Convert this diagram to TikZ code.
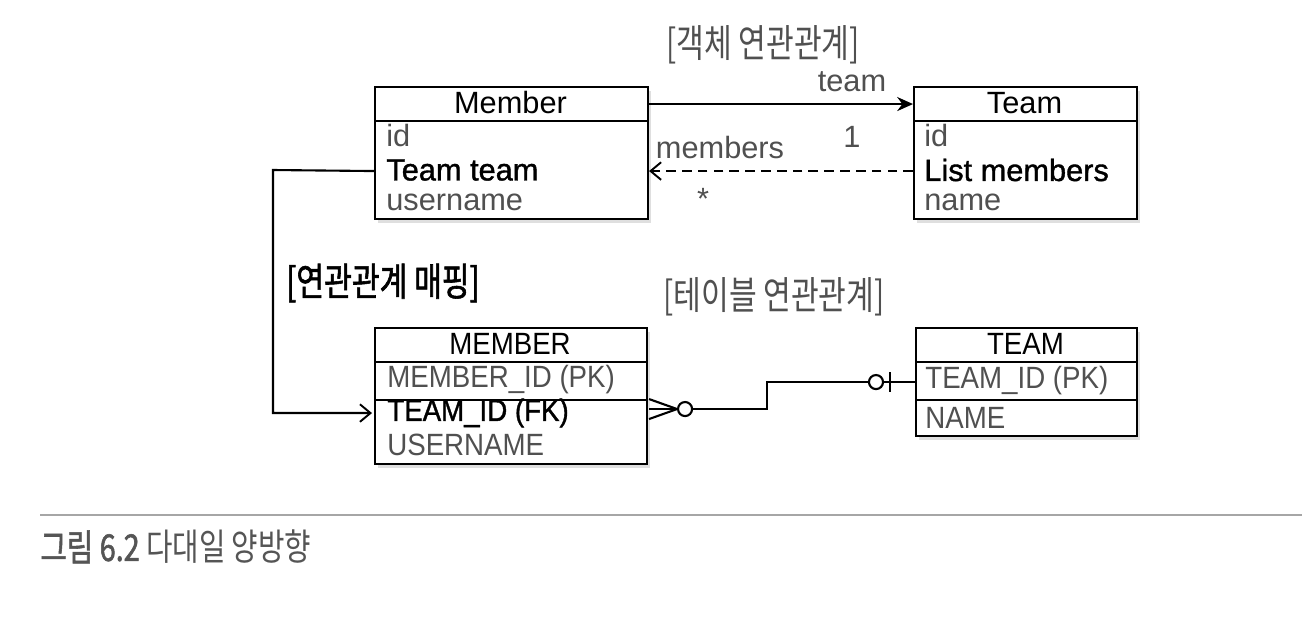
\documentclass[tikz,border=0pt]{standalone}
\usepackage{fontspec}
\setmainfont{Liberation Sans}
\newfontfamily\lat{Liberation Sans}
\newfontfamily\latu[FakeStretch=0.9]{Liberation Sans}
\newfontfamily\latb[FakeBold=1.2]{Liberation Sans}
\newfontfamily\latub[FakeStretch=0.9,FakeBold=1.2]{Liberation Sans}
\newfontfamily\kor[FakeStretch=0.78]{Noto Sans CJK KR}
\newfontfamily\korb[FakeStretch=0.78,FakeBold=1.5]{Noto Sans CJK KR}
\usetikzlibrary{arrows.meta,calc,shadows}
\definecolor{txtgray}{HTML}{505050}
\definecolor{capgray}{HTML}{555555}
\tikzset{
  box/.style={draw=black, line width=1.2pt, fill=white, anchor=north west, inner sep=0pt,
    drop shadow={shadow xshift=1.5pt, shadow yshift=-2pt, opacity=0.25}},
  sep/.style={draw=black, line width=1.4pt},
  hdr/.style={font=\lat\fontsize{17.5}{20}\selectfont, text=black, inner sep=0pt},
  hdru/.style={font=\latu\fontsize{17.5}{20}\selectfont, text=black, inner sep=0pt},
  attr/.style={font=\lat\fontsize{17.5}{20}\selectfont, text=txtgray, anchor=west, inner sep=0pt},
  attrb/.style={font=\latb\fontsize{17.5}{20}\selectfont, text=black, anchor=west, inner sep=0pt},
  attru/.style={font=\latu\fontsize{17.5}{20}\selectfont, text=txtgray, anchor=west, inner sep=0pt},
  attrub/.style={font=\latub\fontsize{17.5}{20}\selectfont, text=black, anchor=west, inner sep=0pt},
  lbl/.style={font=\lat\fontsize{17.5}{20}\selectfont, text=txtgray, inner sep=0pt},
  ktitle/.style={font=\kor\fontsize{22}{25}\selectfont, text=txtgray, inner sep=0pt},
  ktitleb/.style={font=\korb\fontsize{22}{25}\selectfont, text=black, inner sep=0pt},
  conn/.style={draw=black, line width=1.2pt},
  solidarrow/.style={conn, -{Stealth[length=9pt,width=8pt]}},
  openarrow/.style={conn, -{Straight Barb[length=6pt,width=10pt,line width=1.1pt]}},
  dashedconn/.style={conn, dash pattern=on 5.5pt off 3.5pt},
}
\begin{document}
\begin{tikzpicture}[x=0.02cm, y=-0.02cm]
\useasboundingbox[fill=white] (0,0) rectangle (1302,630);

% ---------- Object boxes ----------
\node[box, minimum width=5.46cm, minimum height=2.64cm] (member) at (374,86) {};
\draw[sep] (374,121) -- (647,121);
\node[hdr] (memberH) at (510.5,103) {Member};
\node[attr] (m1) at (386,136) {id};
\node[attrb] (m2) at (386,170) {Team team};
\node[attr] (m3) at (386,202) {username};

\node[box, minimum width=4.46cm, minimum height=2.64cm] (team) at (913,86) {};
\draw[sep] (913,121) -- (1136,121);
\node[hdr] (teamH) at (1024.5,103) {Team};
\node[attr] (t1) at (924,136) {id};
\node[attrb] (t2) at (924,170) {List members};
\node[attr] (t3) at (924,202) {name};

% ---------- Object associations ----------
\draw[solidarrow] ($(member.east)+(0,-49)$) -- ($(team.west)+(0,-49)$);
\draw[dashedconn, -{Straight Barb[length=6pt,width=10pt,line width=1.1pt]}] ($(team.west)+(0,18)$) -- ($(member.east)+(0,18)$);
\node[lbl] (lteam) at (852,82) {team};
\node[lbl] (lone) at (852,137) {1};
\node[lbl] (lmembers) at (720,148) {members};
\node[lbl] (lstar) at (703,199) {*};

\node[ktitle] (objtitle) at (763,45) {[객체 연관관계]};
\node[ktitleb] (maptitle) at (383,283) {[연관관계 매핑]};
\node[ktitle] (tabtitle) at (774,297) {[테이블 연관관계]};

% ---------- Table boxes ----------
\node[box, minimum width=5.44cm, minimum height=2.72cm] (MEMBER) at (374,327) {};
\draw[sep] (374,362) -- (646,362);
\draw[sep] (374,400) -- (646,400);
\node[hdru] (MEMBERH) at (510,344) {MEMBER};
\node[attru] (M1) at (387,380) {MEMBER\_ID (PK)};
\node[attrub] (M2) at (387,413) {TEAM\_ID (FK)};
\node[attru] (M3) at (387,445) {USERNAME};

\node[box, minimum width=4.42cm, minimum height=2.16cm] (TEAM) at (915,327) {};
\draw[sep] (915,362) -- (1136,362);
\draw[sep] (915,400) -- (1136,400);
\node[hdru] (TEAMH) at (1025.5,344) {TEAM};
\node[attru] (T1) at (925,381) {TEAM\_ID (PK)};
\node[attru] (T2) at (925,418) {NAME};

% ---------- Mapping connector ----------
\coordinate (bend) at (273,170);
\draw[openarrow] ($(member.west)+(0,18)$) -- (bend) |- ($(MEMBER.west)+(-2,17)$);

% ---------- Crow's foot relation ----------
\coordinate (fk) at ($(MEMBER.east)+(0,13)$);
\draw[conn] ($(fk)+(1,-10)$) -- ($(fk)+(29,0)$);
\draw[conn] ($(fk)+(1,0)$) -- ($(fk)+(29,0)$);
\draw[conn] ($(fk)+(1,10)$) -- ($(fk)+(29,0)$);
\draw[conn] ($(fk)+(37,0)$) circle[radius=4pt];
\draw[conn] ($(fk)+(44,0)$) -- ++(75,0) |- ($(TEAM.west)+(-46,0)$);
\draw[conn] ($(TEAM.west)+(-39,0)$) circle[radius=4pt];
\draw[conn] ($(TEAM.west)+(-25,-10)$) -- ($(TEAM.west)+(-25,10)$);
\draw[conn] ($(TEAM.west)+(-32,0)$) -- (TEAM.west);

% ---------- Caption ----------
\draw[draw=gray!70, line width=1.2pt] (40,515) -- (1302,515);
\node[anchor=west, inner sep=0pt, text=capgray, font=\kor\fontsize{21}{24}\selectfont] (caption) at (40,547) {{\korb 그림 6.2} 다대일 양방향};
\end{tikzpicture}
\end{document}
